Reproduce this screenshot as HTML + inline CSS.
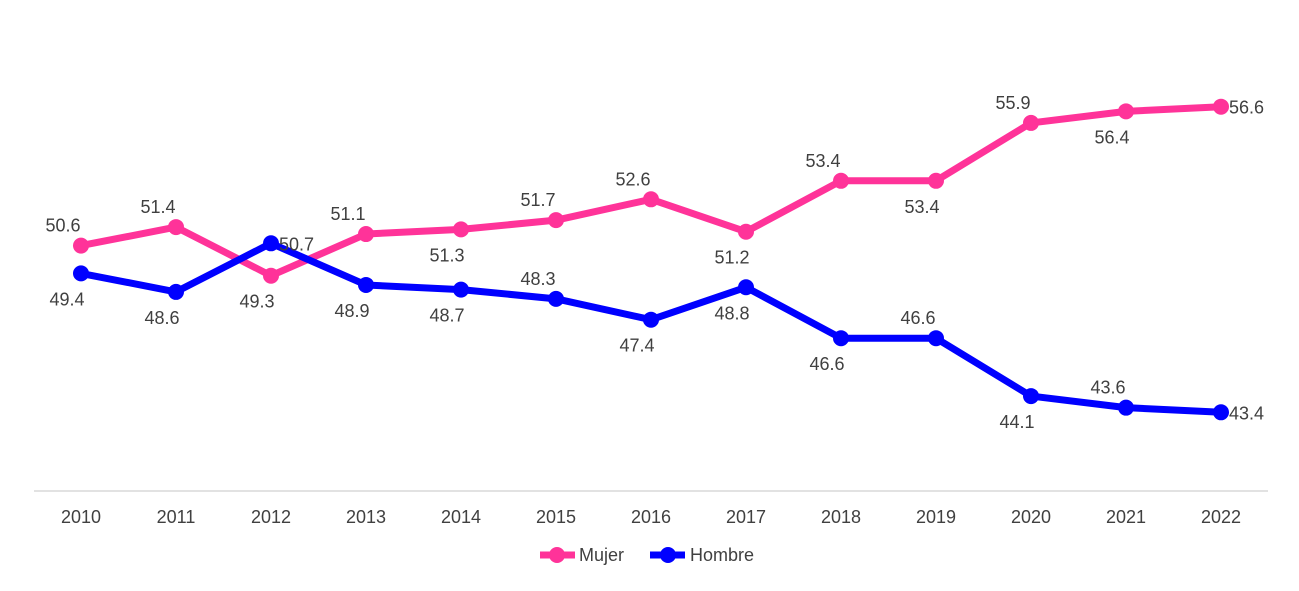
<!DOCTYPE html>
<html><head><meta charset="utf-8"><style>
body{margin:0;background:#fff;}
svg text{font-family:"Liberation Sans",sans-serif;font-size:18px;fill:#404040;}
</style></head><body>
<svg id="chart" width="1299" height="586">
<line x1="34" y1="491" x2="1268" y2="491" stroke="#d9d9d9" stroke-width="1.5"/>
<g id="xt"></g>
<g id="series"></g>
<g>
<g><line x1="540" y1="555" x2="575" y2="555" stroke="#ff3399" stroke-width="7"/><circle cx="557" cy="555" r="8" fill="#ff3399"/><text x="579" y="561">Mujer</text></g>
<g><line x1="650" y1="555" x2="685" y2="555" stroke="#0000ff" stroke-width="7"/><circle cx="668" cy="555" r="8" fill="#0000ff"/><text x="690" y="561">Hombre</text></g>
</g>
</svg>
<script>
const years=["2010","2011","2012","2013","2014","2015","2016","2017","2018","2019","2020","2021","2022"];
const mujer=[50.6,51.4,49.3,51.1,51.3,51.7,52.6,51.2,53.4,53.4,55.9,56.4,56.6];
const hombre=[49.4,48.6,50.7,48.9,48.7,48.3,47.4,48.8,46.6,46.6,44.1,43.6,43.4];
const mujerLabelSide=["a","a","b","a","b","a","a","b","a","b","a","b","r"];
const hombreLabelSide=["b","b","r","b","b","a","b","b","b","a","b","a","r"];
const NS="http://www.w3.org/2000/svg";
const x=i=>81+i*95;
const y=v=>491-(v-40)*(463/20);
const xt=document.getElementById('xt'),sg=document.getElementById('series');
years.forEach((yr,i)=>{const t=document.createElementNS(NS,'text');


t.setAttribute('x',x(i));t.setAttribute('y',523);t.setAttribute('text-anchor','middle');t.textContent=yr;xt.appendChild(t);});
function draw(vals,sides,color,name){
 const g=document.createElementNS(NS,'g');
 
 
 const p=document.createElementNS(NS,'polyline');
 
 
 p.setAttribute('points',vals.map((v,i)=>x(i)+','+y(v)).join(' '));
 p.setAttribute('fill','none');p.setAttribute('stroke',color);p.setAttribute('stroke-width','7');p.setAttribute('stroke-linejoin','round');
 g.appendChild(p);
 vals.forEach((v,i)=>{
  const c=document.createElementNS(NS,'circle');
  
  
  c.setAttribute('cx',x(i));c.setAttribute('cy',y(v));c.setAttribute('r',8);c.setAttribute('fill',color);g.appendChild(c);
  const t=document.createElementNS(NS,'text');
  
  
  let tx=x(i)-18,ty=y(v),anc='middle';
  if(sides[i]==='a'){tx=x(i)-18;ty=y(v)-14;}
  else if(sides[i]==='b'){tx=x(i)-14;ty=y(v)+32;}
  else {tx=x(i)+8;ty=y(v)+7;anc='start';}
  t.setAttribute('x',tx);t.setAttribute('y',ty);t.setAttribute('text-anchor',anc);t.textContent=v.toFixed(1);g.appendChild(t);
 });
 sg.appendChild(g);
}
draw(mujer,mujerLabelSide,'#ff3399','mujer');
draw(hombre,hombreLabelSide,'#0000ff','hombre');
</script>
</body></html>
